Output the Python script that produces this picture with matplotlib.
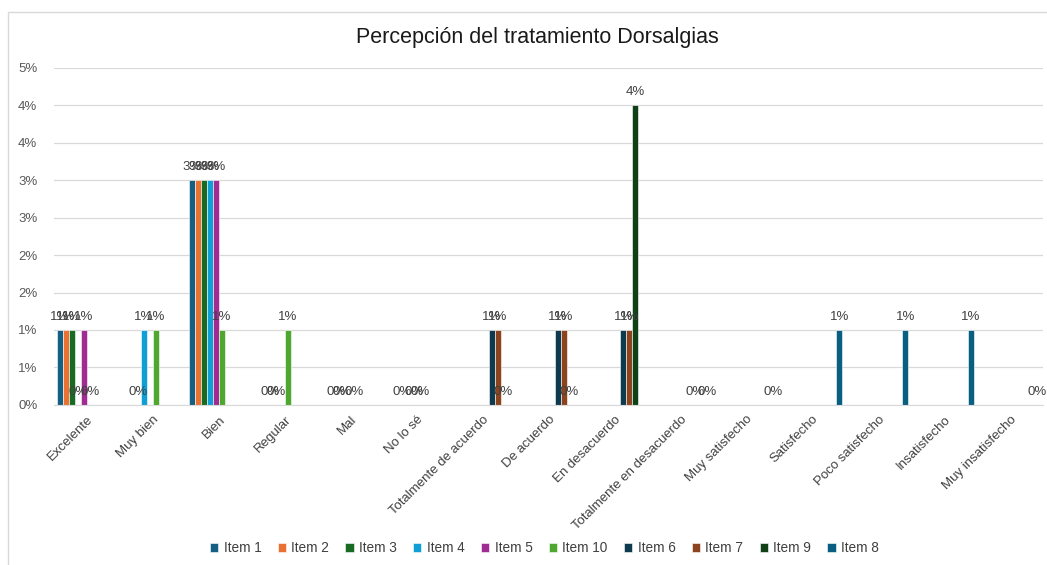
import numpy as np
import matplotlib
matplotlib.use('Agg')
import matplotlib.pyplot as plt
from matplotlib.patches import Rectangle

plt.rcParams['font.family'] = ['Liberation Sans', 'DejaVu Sans']

categories = ['Excelente', 'Muy bien', 'Bien', 'Regular', 'Mal', 'No lo sé',
              'Totalmente de acuerdo', 'De acuerdo', 'En desacuerdo',
              'Totalmente en desacuerdo', 'Muy satisfecho', 'Satisfecho',
              'Poco satisfecho', 'Insatisfecho', 'Muy insatisfecho']

N = np.nan
# one value per category, nan = empty cell (no bar, no label)
item1 = [0.01, N, 0.03, N, N, N, N, N, N, N, N, N, N, N, N]
item2 = [0.01, N, 0.03, N, N, N, N, N, N, N, N, N, N, N, N]
item3 = [0.01, 0, 0.03, 0, 0, 0, N, N, N, N, N, N, N, N, N]
item4 = [0, 0.01, 0.03, 0, 0, N, N, N, N, N, N, N, N, N, N]
item5 = [0.01, N, 0.03, N, N, 0, N, N, N, N, N, N, N, N, N]
item10 = [0, 0.01, 0.01, 0.01, 0, 0, N, N, N, N, N, N, N, N, N]
item6 = [N, N, N, N, N, N, 0.01, 0.01, 0.01, N, N, N, N, N, N]
item7 = [N, N, N, N, N, N, 0.01, 0.01, 0.01, 0, N, N, N, N, N]
item9 = [N, N, N, N, N, N, 0, 0, 0.04, N, N, N, N, N, N]
item8 = [N, N, N, N, N, N, N, N, N, 0, 0, 0.01, 0.01, 0.01, 0]

series = [('Item 1', item1, '#156082'),
          ('Item 2', item2, '#E97132'),
          ('Item 3', item3, '#196B24'),
          ('Item 4', item4, '#0F9ED5'),
          ('Item 5', item5, '#A02B93'),
          ('Item 10', item10, '#4EA72E'),
          ('Item 6', item6, '#0D3A4E'),
          ('Item 7', item7, '#8C441E'),
          ('Item 9', item9, '#0F4016'),
          ('Item 8', item8, '#095F80')]

yticks = [0, 0.005, 0.01, 0.015, 0.02, 0.025, 0.03, 0.035, 0.04, 0.045]
ytick_labels = ['0%', '1%', '1%', '2%', '2%', '3%', '3%', '4%', '4%', '5%']

fig = plt.figure(figsize=(10.47, 5.65), dpi=100)
ax = fig.add_axes([0.0516, 0.2832, 0.9446, 0.5973])

# chart border
fig.patches.append(Rectangle((8 / 1047, -0.01), 1040 / 1047, 1 - 12 / 565 + 0.01,
                             transform=fig.transFigure, fill=False,
                             edgecolor='#D9D9D9', linewidth=1))

x = np.arange(len(categories))
w = 1 / 11
for i, (name, vals, col) in enumerate(series):
    vals = np.array(vals, dtype=float)
    pos = x + (i - 4.5) * w
    ax.bar(pos, vals, width=w, color=col, edgecolor='white', linewidth=0.4, label=name)
    for p, v in zip(pos, vals):
        if np.isnan(v):
            continue
        ax.annotate('%d%%' % round(v * 100), (p, v), xytext=(0, 5),
                    textcoords='offset points', ha='center', va='bottom',
                    fontsize=9.5, color='#404040')

ax.set_xlim(-0.5, len(categories) - 0.5)
ax.set_ylim(0, 0.045)
ax.set_yticks(yticks)
ax.set_yticklabels(ytick_labels, color='#595959', fontsize=9.5)
ax.set_xticks(x)
ax.set_xticklabels(categories, rotation=45, ha='right', rotation_mode='anchor',
                   color='#404040', fontsize=9.5)
ax.tick_params(axis='both', length=0)
ax.tick_params(axis='y', pad=12)
ax.tick_params(axis='x', pad=6)
ax.grid(axis='y', color='#D9D9D9', linewidth=0.9)
ax.set_axisbelow(True)
for s in ['top', 'right', 'left']:
    ax.spines[s].set_visible(False)
ax.spines['bottom'].set_color('#D9D9D9')

fig.text(0.513, 1 - 37 / 565, 'Percepción del tratamiento Dorsalgias',
         ha='center', va='center', fontsize=15.5, color='#1a1a1a')

fig.legend(loc='center', bbox_to_anchor=(0.52, 1 - 548 / 565), ncol=10,
           frameon=False, fontsize=9.8, handlelength=0.6, handleheight=0.6,
           handletextpad=0.4, columnspacing=1.2, labelcolor='#404040')

fig.savefig('out.png', dpi=100)
